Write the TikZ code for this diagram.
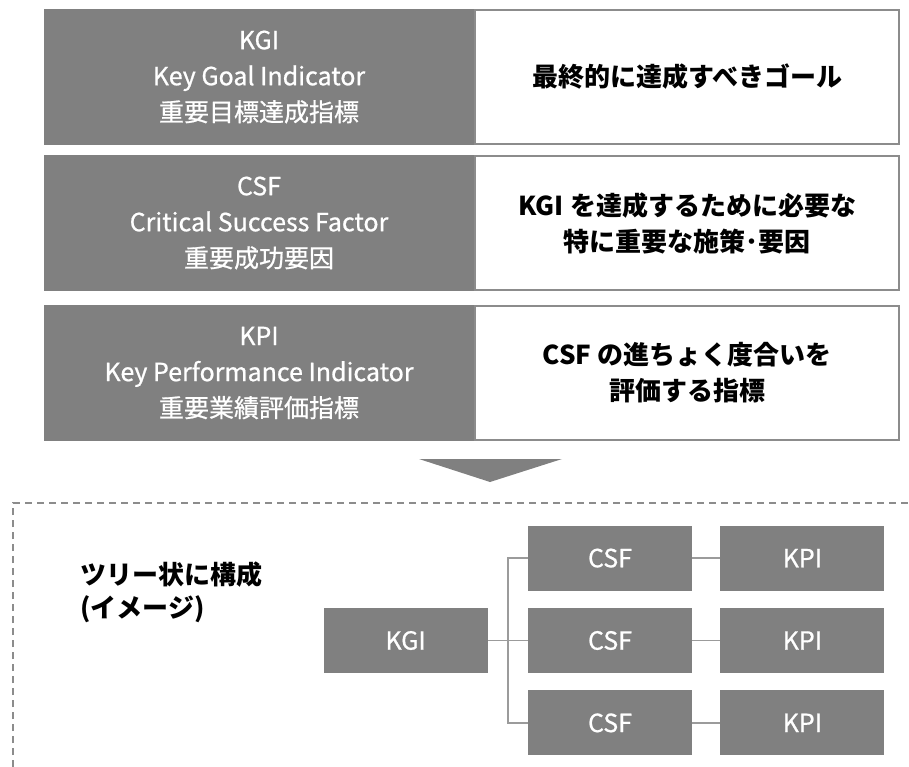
\documentclass[tikz,border=0pt]{standalone}
\usepackage{fontspec}
\setmainfont{Noto Sans CJK JP}
\newfontfamily\medfont{Noto Sans CJK JP}[FakeBold=0.7]
\usetikzlibrary{calc, positioning}

\definecolor{boxgray}{RGB}{128,128,128}
\definecolor{edgegray}{RGB}{140,140,140}
\definecolor{linegray}{RGB}{155,155,155}

\begin{document}
\begin{tikzpicture}[x=1pt, y=-1pt,
  namebox/.style={fill=boxgray, text=white, minimum width=430pt, minimum height=136pt,
    inner sep=0pt, align=center, font=\medfont\fontsize{25}{36}\selectfont},
  descbox/.style={fill=white, draw=edgegray, line width=2pt, minimum width=424pt,
    minimum height=134pt, inner sep=0pt, align=center, font=\bfseries\fontsize{26}{36}\selectfont},
  treebox/.style={fill=boxgray, text=white, minimum width=164pt, minimum height=65pt,
    inner sep=0pt, font=\medfont\fontsize{25}{30}\selectfont},
  link/.style={draw=linegray, line width=1.5pt}]
\useasboundingbox (0,0) rectangle (909,767);

\node[namebox] (kgiName) at (259,77) {KGI\\Key Goal Indicator\\重要目標達成指標};
\node[descbox, right=0pt of kgiName] (kgiDesc) {最終的に達成すべきゴール};
\node[namebox] (csfName) at (259,223) {CSF\\Critical Success Factor\\重要成功要因};
\node[descbox, right=0pt of csfName] (csfDesc) {KGI を達成するために必要な\\特に重要な施策･要因};
\node[namebox] (kpiName) at (259,373) {KPI\\Key Performance Indicator\\重要業績評価指標};
\node[descbox, right=0pt of kpiName] (kpiDesc) {CSF の進ちょく度合いを\\評価する指標};

\fill[boxgray] (419,459) -- (562,459) -- (490,482) -- cycle;
\draw[edgegray, line width=1.5pt, dash pattern=on 7pt off 5pt] (13,767) -- (13,503) -- (909,503);

\node[font=\bfseries\fontsize{26}{33}\selectfont, align=left, anchor=west] (treeTitle)
  at (77,592) {ツリー状に構成\\(イメージ)};

\node[treebox] (csf2) at (610,640.5) {CSF};
\node[treebox, above=17pt of csf2] (csf1) {CSF};
\node[treebox, below=17pt of csf2] (csf3) {CSF};
\node[treebox, left=40pt of csf2] (kgi) {KGI};
\coordinate (fork) at ($(kgi.east)!0.5!(csf2.west)$);

\foreach \i in {1,2,3} {
  \node[treebox, right=28pt of csf\i] (kpi\i) {KPI};
  \draw[link] (csf\i) -- (kpi\i);
  \draw[link] (kgi.east) -- (fork) |- (csf\i.west);
}
\end{tikzpicture}
\end{document}
